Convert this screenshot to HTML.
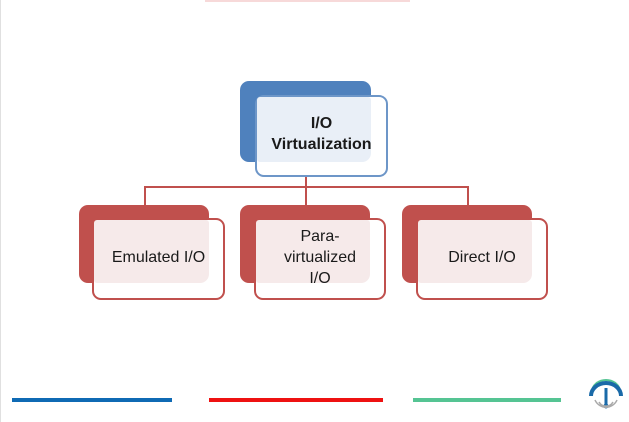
<!DOCTYPE html>
<html><head><style>
body{margin:0;width:629px;height:422px;background:#fff;position:relative;overflow:hidden;font-family:"Liberation Sans",sans-serif}
.d{position:absolute;border-radius:9px}
.o{position:absolute;border-radius:3px 3px 9px 3px}
.l{position:absolute;border-radius:9px;box-sizing:border-box;display:flex;align-items:center;justify-content:center;text-align:center;color:#1a1a1a;font-size:16px;line-height:21px}
.r{background:#c0504d}
.rl{border:2px solid #c0504d}
.ln{position:absolute;background:#c0504d}
</style></head><body>
<div style="position:absolute;left:0;top:0;width:1px;height:422px;background:#e0e0e0"></div>
<div style="position:absolute;left:205px;top:0;width:205px;height:2px;background:#f7d9d9"></div>
<div class="d" style="left:240px;top:81px;width:131px;height:81px;background:#4f81bd"></div>
<div class="l" style="left:255px;top:95px;width:133px;height:82px;background:#fff;border:2px solid #6d96c8"></div>
<div class="o" style="left:257px;top:97px;width:114px;height:65px;background:#e9eff7"></div>
<div class="l" style="left:255px;top:95px;width:133px;height:82px;font-weight:bold;font-size:16px;padding-bottom:4px">I/O<br>Virtualization</div>
<div class="ln" style="left:305px;top:177px;width:2px;height:11px"></div>
<div class="ln" style="left:144px;top:186px;width:325px;height:2px"></div>
<div class="ln" style="left:144px;top:186px;width:2px;height:19px"></div>
<div class="ln" style="left:305px;top:186px;width:2px;height:19px"></div>
<div class="ln" style="left:467px;top:186px;width:2px;height:19px"></div>

<div class="d r" style="left:79px;top:205px;width:130px;height:78px"></div>
<div class="l rl" style="left:92px;top:218px;width:133px;height:82px;background:#fff"></div>
<div class="o" style="left:94px;top:220px;width:115px;height:63px;background:#f6eaea"></div>
<div class="l" style="left:92px;top:218px;width:133px;height:82px;padding-bottom:4px">Emulated I/O</div>

<div class="d r" style="left:240px;top:205px;width:130px;height:78px"></div>
<div class="l rl" style="left:254px;top:218px;width:132px;height:82px;background:#fff"></div>
<div class="o" style="left:256px;top:220px;width:114px;height:63px;background:#f6eaea"></div>
<div class="l" style="left:254px;top:218px;width:132px;height:82px;padding-bottom:4px">Para-<br>virtualized<br>I/O</div>

<div class="d r" style="left:402px;top:205px;width:130px;height:78px"></div>
<div class="l rl" style="left:416px;top:218px;width:132px;height:82px;background:#fff"></div>
<div class="o" style="left:418px;top:220px;width:114px;height:63px;background:#f6eaea"></div>
<div class="l" style="left:416px;top:218px;width:132px;height:82px;padding-bottom:4px">Direct I/O</div>

<div style="position:absolute;left:12px;top:398px;width:160px;height:4px;background:#0f6ab4"></div>
<div style="position:absolute;left:209px;top:398px;width:174px;height:4px;background:#ee1111"></div>
<div style="position:absolute;left:413px;top:398px;width:148px;height:4px;background:#55c493"></div>
<svg style="position:absolute;left:588px;top:378px" width="36" height="40" viewBox="0 0 36 40">
<path d="M4 14 A14 12 0 0 1 32 14" fill="none" stroke="#55c493" stroke-width="2"/>
<path d="M3 18 A15 13 0 0 1 33 18" fill="none" stroke="#1a6aa8" stroke-width="4"/>
<line x1="18" y1="10" x2="18" y2="27" stroke="#1a6aa8" stroke-width="3"/>
<circle cx="18" cy="28" r="2.5" fill="#1a6aa8"/>
<path d="M11 24 A8 8 0 0 0 25 24 M7 22 A12 12 0 0 0 29 22" fill="none" stroke="#aaa" stroke-width="1.5"/>
</svg>
</body></html>
